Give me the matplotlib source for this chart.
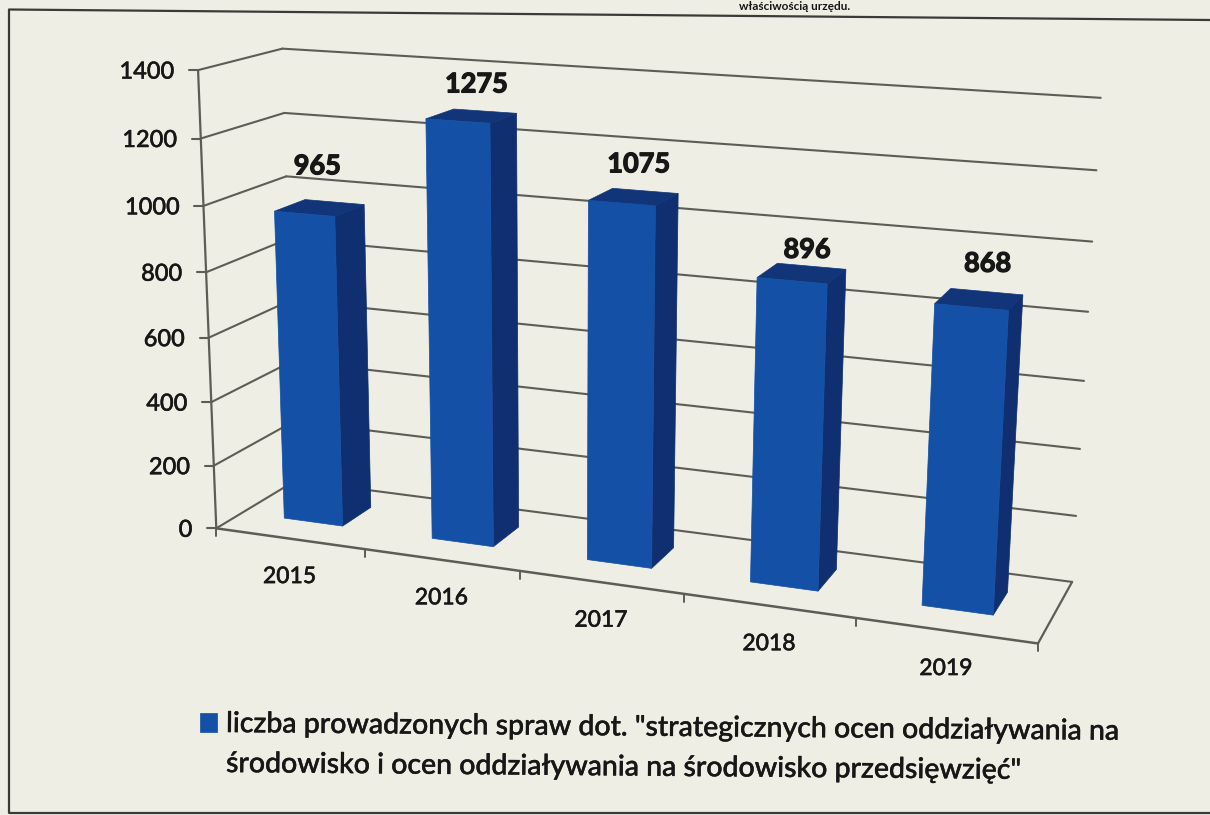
import numpy as np
import matplotlib
matplotlib.use("Agg")
import matplotlib.pyplot as plt
from matplotlib.patches import Polygon
import matplotlib.patheffects as pe

years = ["2015", "2016", "2017", "2018", "2019"]
cases = [965, 1275, 1075, 896, 868]
value_ticks = [0, 200, 400, 600, 800, 1000, 1200, 1400]
legend_lines = ['liczba prowadzonych spraw dot. "strategicznych ocen oddziaływania na',
                'środowisko i ocen oddziaływania na środowisko przedsięwzięć"']

plt.rcParams['font.family'] = ['Lato', 'DejaVu Sans']
PAPER = '#EEEEE4'; LINE = '#5f5c57'; INK = '#171717'
FRONT = '#1450A6'; SIDE = '#102F70'; TOP = '#123478'
THICK = [pe.withStroke(linewidth=0.3, foreground=INK)]
HEAVY = [pe.withStroke(linewidth=0.9, foreground=INK)]

# camera calibration: (category, value, depth) -> figure pixels
calib = [((0, 0, 0), (217, 528)), ((0, 1400, 0), (198, 70)), ((0, 1400, 1), (282, 48)),
         ((5, 1400, 1), (1100, 98)), ((5, 0, 1), (1072, 581)), ((5, 0, 0), (1038, 644)),
         ((0, 0, 1), (295, 481)), ((1, 0, 0), (364, 549)), ((2, 0, 0), (520, 571)),
         ((0, 1000, 1), (287, 177)), ((5, 800, 1), (1089, 312))]
rows = []
for (c, v, d), (u, w) in calib:
    X = [c / 5, v / 1400, d, 1]
    rows.append(X + [0, 0, 0, 0] + [-u / 1000 * a for a in X])
    rows.append([0, 0, 0, 0] + X + [-w / 1000 * a for a in X])
P = np.linalg.svd(np.array(rows))[2][-1].reshape(3, 4)

def proj(c, v, d):
    h = P @ np.array([c / 5, v / 1400, d, 1.0])
    return (h[0] / h[2] * 1000, h[1] / h[2] * 1000)

fig = plt.figure(figsize=(12.1, 8.15), dpi=100, facecolor=PAPER)
ax = fig.add_axes([0, 0, 1, 1])
ax.set_xlim(0, 1210); ax.set_ylim(815, 0); ax.axis('off')

def seg(a, b, lw=1.5, color=LINE, z=1):
    ax.plot([a[0], b[0]], [a[1], b[1]], color=color, lw=lw, solid_capstyle='round', zorder=z)

# outer frame of the scanned page
ax.plot([1210, 9, 9, 1210], [20, 9.5, 813, 813], color='#3c3a37', lw=1.6, zorder=1)
ax.text(850, 6.5, 'właściwością urzędu.', ha='right', va='center', fontsize=8.5, color=INK, weight='bold')

# walls
for v in value_ticks:
    fl, bl, br = proj(0, v, 0), proj(0, v, 1), proj(5, v, 1)
    seg(fl, bl); seg(bl, br)
    seg((fl[0] - 9, fl[1]), fl)
    ax.text(fl[0] - 24, fl[1] + 1, str(v), ha='right', va='center', fontsize=17, color=INK,
            weight='medium', path_effects=THICK)
seg(proj(0, 0, 0), proj(0, 1400, 0), lw=1.6)
seg(proj(0, 0, 0), proj(5, 0, 0), lw=1.8)
seg(proj(5, 0, 0), proj(5, 0, 1), lw=1.6)
for c in range(6):
    a = proj(c, 0, 0)
    seg(a, (a[0], a[1] + 8), lw=1.4)

# bars
X0, X1, D0, D1 = 0.29, 0.69, 0.32, 0.70
label_dx = [-3, 4, 4, 4, 7]
label_dy = [-42, -32, -33, -24, -36]
for i, (lab, val) in enumerate(zip(years, cases)):
    a, b = i + X0, i + X1
    ax.add_patch(Polygon([proj(b, 0, D0), proj(b, 0, D1), proj(b, val, D1), proj(b, val, D0)], fc=SIDE, ec=SIDE, lw=.5, zorder=3))
    ax.add_patch(Polygon([proj(a, val, D0), proj(b, val, D0), proj(b, val, D1), proj(a, val, D1)], fc=TOP, ec=TOP, lw=.5, zorder=3))
    ax.add_patch(Polygon([proj(a, 0, D0), proj(b, 0, D0), proj(b, val, D0), proj(a, val, D0)], fc=FRONT, ec=FRONT, lw=.5, zorder=4))
    top = proj(i + .5, val, .5)
    ax.text(top[0] + label_dx[i], top[1] + label_dy[i], str(val), ha='center', va='center', fontsize=19.5,
            weight='bold', color=INK, zorder=5, path_effects=HEAVY)
    m = proj(i + .5, 0, 0)
    ax.text(m[0], m[1] + 38, lab, ha='center', va='center', fontsize=16.5, weight='medium', color=INK, path_effects=THICK)

# legend
ax.add_patch(Polygon([(200, 713), (217, 713), (217, 732), (200, 732)], fc=FRONT, ec=FRONT, lw=.5))
for k, t in enumerate(legend_lines):
    ax.text(226, 732 + 40 * k, t, ha='left', va='baseline', fontsize=20.5, color=INK, weight='medium',
            rotation=-0.5, rotation_mode='anchor', path_effects=THICK)

fig.savefig('out.png', dpi=100, facecolor=PAPER)
